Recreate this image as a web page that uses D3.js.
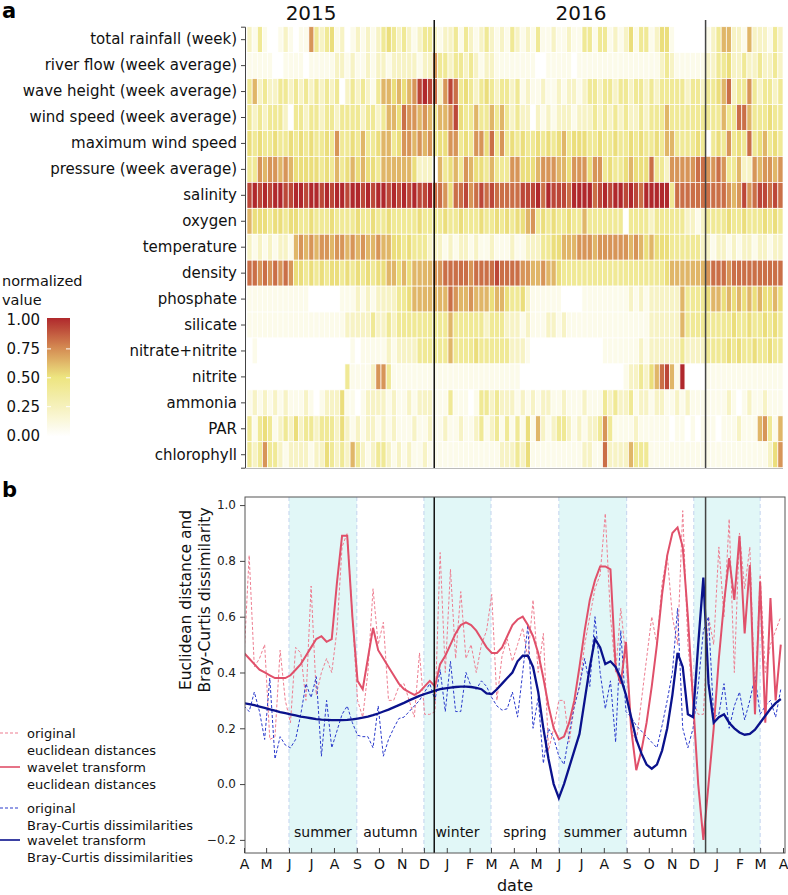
<!DOCTYPE html>
<html><head><meta charset="utf-8">
<script src="https://cdn.jsdelivr.net/npm/d3@7"></script>
<style>body{margin:0;background:#fff}svg{display:block;font-family:"DejaVu Sans",Verdana,sans-serif}</style>
</head><body><svg id="c" width="788" height="895"></svg>
<script>
// ---------- DATA ----------
const variables = ["total rainfall (week)","river flow (week average)","wave height (week average)","wind speed (week average)","maximum wind speed","pressure (week average)","salinity","oxygen","temperature","density","phosphate","silicate","nitrate+nitrite","nitrite","ammonia","PAR","chlorophyll"];
// heatmap rows: one char per week (104 weeks, groups of 10), quantised normalized level (see levelValues)
const levelValues = [0, 0.08, 0.22, 0.41, 0.52, 0.63, 0.72, 0.82, 0.92, 1.0];
const rainfall   = "2131001210 1163234120 1212123432 3212332122 3132123212 1321213112 1121133133 1212413312 4410000001 2355221522 2132";
const riverFlow  = "1111100111 1011111221 2112122122 2221226332 3323212211 1111110011 1110111111 1111111111 2321111112 2334223223 2232";
const waveHeight = "3523223323 2323232302 3232135545 4568987268 7343234323 3231211211 2122123323 3233233232 3333323323 3457233632 3323";
const windSpeed  = "3232333203 3233233233 3323323554 7665653556 8433533535 3232202121 2221222323 2323223233 3533333333 3353377533 3433";
const maxWind    = "4343343343 4343343633 4353345534 6656563446 6343664736 3434334343 4534443343 3433434334 3553333430 3436343734 5343";
const pressure   = "3365665654 4444343534 5454435555 5542220534 5365443533 3664445666 5546664663 4334544473 3266666776 6763352265 6656";
const salinity   = "8989899889 9899898998 9989899898 9898897764 7786787877 7778889798 8879999789 8998987999 9937777777 7776568678 8787";
const oxygen     = "5444344344 3343334333 3433433433 3334333343 3433343343 4344563434 3343353333 3330333323 3333322123 3334334333 4343";
const temperature= "2121212215 6565665665 6565565544 3433322212 1221211211 1211222334 4555666566 6666565454 4433333322 1221212212 2122";
const density    = "7767676764 4343434434 3434344554 5455556677 7776777787 7776655655 4333333333 3333333333 3455555556 7776777777 7777";
const phosphate  = "1111111111 1100000011 1212122223 3455555557 6556555455 4334211111 1000011111 1111212122 2222533334 5545454545 4454";
const silicate   = "1111111111 1111111112 2222322323 3333333335 3333332333 2221211122 1211111111 1111111122 2222533333 3333433433 4343";
const nitrate    = "0100000000 0000000000 1011111212 2223333335 3333433333 3222100000 0000000001 1111112122 2222322223 3334343343 3433";
const nitrite    = "0000000000 0000000003 1111266311 1111111111 1111111111 1110000000 0000000000 0001223245 7851900001 1111111111 1111";
const ammonia    = "1212121211 1210122241 1012222121 1212221113 1110133232 2212121221 1211121113 2322312212 2112121111 1112101211 2111";
const par        = "3134312324 2332333242 1212212121 1121121121 1211231231 3131415212 3321212236 3111121111 1101101011 1011121115 6315";
const chlorophyll= "3236332122 2212243232 5321233212 1211211111 1111111112 2232411111 1111122117 2222533311 1111111111 1111111111 1246";
const heatRows = [rainfall,riverFlow,waveHeight,windSpeed,maxWind,pressure,salinity,oxygen,temperature,density,phosphate,silicate,nitrate,nitrite,ammonia,par,chlorophyll];

// weekly series (105 weeks from 1 Apr 2015)
const origEuclid = [0.45,0.82,0.42,0.45,0.5,0.16,0.17,0.48,0.3,0.22,0.49,0.47,0.3,0.71,0.32,0.4,0.45,0.4,0.55,0.85,0.9,0.6,0.3,0.24,0.4,0.7,0.5,0.58,0.3,0.3,0.35,0.36,0.3,0.24,0.47,0.25,0.25,0.26,0.83,0.4,0.77,0.45,0.69,0.45,0.5,0.4,0.5,0.55,0.68,0.3,0.46,0.52,0.44,0.5,0.56,0.45,0.66,0.4,0.54,0.12,0.2,0.3,0.3,0.15,0.28,0.35,0.5,0.6,0.7,0.75,0.97,0.6,0.4,0.63,0.45,0.2,0.15,0.3,0.45,0.6,0.5,0.72,0.82,0.6,0.5,0.98,0.5,0.3,0.25,0.25,0.6,0.5,0.85,0.6,0.95,0.4,0.9,0.7,0.85,0.3,0.75,0.4,0.5,0.55,0.6];
const waveEuclid = [0.47,0.45,0.43,0.41,0.4,0.39,0.38,0.38,0.38,0.39,0.41,0.43,0.46,0.49,0.52,0.53,0.51,0.52,0.72,0.89,0.89,0.6,0.37,0.34,0.45,0.56,0.48,0.45,0.42,0.39,0.36,0.34,0.33,0.32,0.33,0.35,0.37,0.35,0.43,0.46,0.5,0.54,0.57,0.58,0.57,0.55,0.52,0.49,0.47,0.47,0.49,0.53,0.57,0.59,0.6,0.57,0.53,0.47,0.38,0.28,0.2,0.16,0.17,0.22,0.3,0.42,0.55,0.66,0.73,0.78,0.78,0.77,0.42,0.36,0.51,0.2,0.05,0.12,0.22,0.35,0.5,0.68,0.82,0.9,0.92,0.85,0.6,0.3,0.0,-0.2,0.0,0.2,0.45,0.65,0.81,0.66,0.89,0.54,0.785,0.25,0.725,0.22,0.667,0.3,0.5];
const origBray = [0.28,0.26,0.33,0.26,0.16,0.38,0.09,0.17,0.14,0.13,0.16,0.25,0.36,0.31,0.385,0.1,0.3,0.13,0.19,0.25,0.28,0.22,0.175,0.17,0.17,0.13,0.28,0.1,0.16,0.2,0.235,0.24,0.26,0.28,0.3,0.33,0.36,0.3,0.41,0.26,0.44,0.26,0.26,0.4,0.35,0.34,0.37,0.35,0.31,0.28,0.265,0.27,0.33,0.24,0.4,0.57,0.2,0.31,0.074,0.2,0.165,0.1,0.07,0.18,0.28,0.35,0.45,0.35,0.6,0.4,0.27,0.37,0.15,0.55,0.26,0.24,0.21,0.19,0.17,0.15,0.13,0.21,0.3,0.4,0.63,0.2,0.13,0.2,0.35,0.55,0.6,0.24,0.25,0.36,0.2,0.28,0.33,0.23,0.3,0.385,0.25,0.28,0.3,0.24,0.34];
const waveBray = [0.29,0.287,0.283,0.278,0.273,0.268,0.263,0.258,0.254,0.25,0.246,0.242,0.239,0.236,0.233,0.231,0.23,0.229,0.229,0.229,0.23,0.232,0.235,0.238,0.242,0.247,0.253,0.26,0.267,0.275,0.283,0.291,0.3,0.308,0.316,0.323,0.329,0.335,0.34,0.343,0.346,0.348,0.349,0.349,0.348,0.345,0.34,0.325,0.323,0.34,0.36,0.38,0.4,0.44,0.46,0.46,0.42,0.33,0.2,0.09,0.0,-0.05,0.0,0.06,0.12,0.18,0.3,0.42,0.52,0.49,0.43,0.44,0.42,0.38,0.32,0.24,0.16,0.11,0.07,0.055,0.07,0.12,0.2,0.32,0.47,0.42,0.25,0.24,0.5,0.74,0.36,0.22,0.24,0.25,0.22,0.2,0.185,0.177,0.18,0.195,0.22,0.245,0.27,0.29,0.305];

const seasons = [
  {name:"summer", start:"2015-06-01", end:"2015-09-01", shaded:true},
  {name:"autumn", start:"2015-09-01", end:"2015-12-01", shaded:false},
  {name:"winter", start:"2015-12-01", end:"2016-03-01", shaded:true},
  {name:"spring", start:"2016-03-01", end:"2016-06-01", shaded:false},
  {name:"summer", start:"2016-06-01", end:"2016-09-01", shaded:true},
  {name:"autumn", start:"2016-09-01", end:"2016-12-01", shaded:false},
  {name:"",       start:"2016-12-01", end:"2017-03-01", shaded:true}
];
const yearLabels = [{text:"2015", date:"2015-07-01"},{text:"2016", date:"2016-07-01"}];
const yearBreaks = ["2015-12-15","2016-12-17"];
const legendTicks = [0, 0.25, 0.5, 0.75, 1];
const yTicks = [-0.2, 0, 0.2, 0.4, 0.6, 0.8, 1.0];
const legendItems = [
  {lines:["original","euclidean distances"], color:"#ee7d90", dash:"3,2", w:1.2},
  {lines:["wavelet transform","euclidean distances"], color:"#e0506a", dash:null, w:1.6},
  {lines:["original","Bray-Curtis dissimilarities"], color:"#2a3acc", dash:"3,2", w:1.2},
  {lines:["wavelet transform","Bray-Curtis dissimilarities"], color:"#0a128c", dash:null, w:1.6}
];

// ---------- SETUP ----------
const svg = d3.select("#c");
const parse = d3.timeParse("%Y-%m-%d");
const startDate = parse("2015-04-01");
const weeks = d3.range(105).map(i => d3.timeDay.offset(startDate, 7*i));
const x = d3.scaleTime().domain([parse("2015-04-01"), parse("2017-04-01")]).range([244, 783]);
const color = d3.scaleLinear().domain([0,0.25,0.5,0.75,1]).range(["#ffffff","#f6f1bd","#ede580","#d48a52","#b0282c"]);

// ---------- PANEL A: heatmap ----------
const hx = d3.scaleBand().domain(d3.range(104)).range([247, 783]);
const hy = d3.scaleBand().domain(variables).range([26.7, 467.7]);
const cells = [];
heatRows.forEach((rowStr, r) => {
  const row = rowStr.replace(/\s/g, "");
  for (let i = 0; i < 104; i++) cells.push({v: variables[r], i, val: levelValues[+row[i]]});
});
svg.append("g").selectAll("rect").data(cells).join("rect")
  .attr("x", d => hx(d.i)).attr("y", d => hy(d.v))
  .attr("width", hx.bandwidth()).attr("height", hy.bandwidth())
  .attr("fill", d => color(d.val)).attr("stroke", "#fff").attr("stroke-width", 0.7);

const yAxA = svg.append("g").attr("transform", "translate(245,0)")
  .call(d3.axisLeft(hy).tickSize(4).tickPadding(4));
yAxA.select(".domain").attr("stroke", "#444");
yAxA.selectAll(".tick line").attr("stroke", "#444");
yAxA.selectAll("text").attr("font-size", 15).attr("fill", "#111").attr("font-family", "DejaVu Sans");
svg.append("line").attr("x1", 245).attr("x2", 783).attr("y1", 468.5).attr("y2", 468.5).attr("stroke", "#bbb");

svg.selectAll(".yr").data(yearLabels).join("text")
  .attr("x", d => x(parse(d.date))).attr("y", 20).attr("text-anchor", "middle")
  .attr("font-size", 20).attr("fill", "#111").text(d => d.text);

svg.selectAll(".brkA").data(yearBreaks).join("line")
  .attr("x1", d => x(parse(d))).attr("x2", d => x(parse(d)))
  .attr("y1", 20).attr("y2", 468)
  .attr("stroke", (d,i) => i ? "#444" : "#111").attr("stroke-width", 1.5);

// colour legend
svg.append("text").attr("x", 2).attr("y", 286).attr("font-size", 14.5).attr("fill", "#111").text("normalized");
svg.append("text").attr("x", 2).attr("y", 305).attr("font-size", 14.5).attr("fill", "#111").text("value");
const ly = d3.scaleLinear().domain([0,1]).range([435.6, 320]);
const defs = svg.append("defs");
const grad = defs.append("linearGradient").attr("id", "lg").attr("x1", 0).attr("x2", 0).attr("y1", 1).attr("y2", 0);
d3.range(0, 1.001, 0.05).forEach(t => grad.append("stop").attr("offset", t).attr("stop-color", color(t)));
svg.append("rect").attr("x", 47).attr("y", ly(1) - 2).attr("width", 23).attr("height", ly(0) - ly(1) + 3).attr("fill", "url(#lg)");
svg.selectAll(".lt").data(legendTicks).join("text")
  .attr("x", 40).attr("y", d => ly(d)).attr("dy", "0.35em").attr("text-anchor", "end")
  .attr("font-size", 15).attr("fill", "#111").text(d => d3.format(".2f")(d));
[47, 66].forEach(px => svg.selectAll(null).data(legendTicks.slice(1, 4)).join("line")
  .attr("x1", px).attr("x2", px + 4).attr("y1", d => ly(d)).attr("y2", d => ly(d)).attr("stroke", "#fff").attr("stroke-width", 1));

// ---------- PANEL B: lines ----------
const y = d3.scaleLinear().domain([-0.247, 1.029]).range([853, 497]);
const plotL = 245, plotR = 785, plotT = 497, plotB = 853;
defs.append("clipPath").attr("id", "cp").append("rect").attr("x", plotL).attr("y", plotT).attr("width", plotR - plotL).attr("height", plotB - plotT);
const gB = svg.append("g");
const shaded = seasons.filter(s => s.shaded);
gB.selectAll(".season").data(shaded).join("rect")
  .attr("x", d => x(parse(d.start))).attr("width", d => x(parse(d.end)) - x(parse(d.start)))
  .attr("y", plotT).attr("height", plotB - plotT).attr("fill", "#e1f7f7");
shaded.forEach(s => [s.start, s.end].forEach(dt => gB.append("line")
  .attr("x1", x(parse(dt))).attr("x2", x(parse(dt))).attr("y1", plotT).attr("y2", plotB)
  .attr("stroke", "#c3d3ee").attr("stroke-dasharray", "4,3").attr("stroke-width", 1)));
gB.selectAll(".slab").data(seasons.filter(s => s.name)).join("text")
  .attr("x", d => x(new Date((parse(d.start).getTime() + parse(d.end).getTime()) / 2)))
  .attr("y", 837).attr("text-anchor", "middle").attr("font-size", 14).attr("fill", "#111").text(d => d.name);

const line = d3.line().x((d, i) => x(weeks[i])).y(d => y(d));
const gL = gB.append("g").attr("clip-path", "url(#cp)");
gL.append("path").datum(origEuclid).attr("d", line).attr("fill", "none").attr("stroke", "#ee7d90").attr("stroke-width", 1).attr("stroke-dasharray", "3,2");
gL.append("path").datum(origBray).attr("d", line).attr("fill", "none").attr("stroke", "#2a3acc").attr("stroke-width", 1).attr("stroke-dasharray", "3,2");
gL.append("path").datum(waveEuclid).attr("d", line).attr("fill", "none").attr("stroke", "#e0506a").attr("stroke-width", 2);
gL.append("path").datum(waveBray).attr("d", line).attr("fill", "none").attr("stroke", "#0a128c").attr("stroke-width", 2.3);

gB.selectAll(".brkB").data(yearBreaks).join("line")
  .attr("x1", d => x(parse(d))).attr("x2", d => x(parse(d)))
  .attr("y1", plotT).attr("y2", plotB)
  .attr("stroke", (d,i) => i ? "#444" : "#111").attr("stroke-width", 1.5);

gB.append("rect").attr("x", plotL).attr("y", plotT).attr("width", plotR - plotL).attr("height", plotB - plotT)
  .attr("fill", "none").attr("stroke", "#555").attr("stroke-width", 1);

const yAx = svg.append("g").attr("transform", `translate(${plotL},0)`)
  .call(d3.axisLeft(y).tickValues(yTicks).tickFormat(d3.format(".1f")).tickSize(5).tickPadding(4));
yAx.select(".domain").remove();
yAx.selectAll("line").attr("stroke", "#444");
yAx.selectAll("text").attr("font-size", 12).attr("fill", "#222").attr("font-family", "DejaVu Sans");

const months = d3.timeMonth.range(parse("2015-04-01"), parse("2017-04-02"));
const xAx = svg.append("g").attr("transform", `translate(0,${plotB})`)
  .call(d3.axisBottom(x).tickValues(months).tickFormat(d => d3.timeFormat("%b")(d)[0]).tickSize(-5).tickPadding(6));
xAx.select(".domain").remove();
xAx.selectAll("line").attr("stroke", "#444");
xAx.selectAll("text").attr("font-size", 14).attr("fill", "#111").attr("font-family", "DejaVu Sans");

svg.append("text").attr("x", (plotL + plotR) / 2).attr("y", 891).attr("text-anchor", "middle").attr("font-size", 16).attr("fill", "#111").text("date");
const yt = svg.append("text").attr("transform", "translate(191,600) rotate(-90)").attr("text-anchor", "middle").attr("font-size", 15.5).attr("fill", "#111");
yt.append("tspan").attr("x", 0).attr("dy", 0).text("Euclidean distance and");
yt.append("tspan").attr("x", 0).attr("dy", 19).text("Bray-Curtis dissimilarity");

const legY = [733, 767, 808, 840];
legendItems.forEach((it, k) => {
  const g = svg.append("g").attr("transform", `translate(0,${legY[k]})`);
  g.append("line").attr("x1", 0).attr("x2", 20).attr("stroke", it.color).attr("stroke-width", it.w).attr("stroke-dasharray", it.dash);
  it.lines.forEach((t, j) => g.append("text").attr("x", 27).attr("y", 5 + j * 16.5).attr("font-size", 13).attr("fill", "#111").text(t));
});

svg.append("text").attr("x", 2).attr("y", 18).attr("font-size", 21).attr("font-weight", "bold").text("a");
svg.append("text").attr("x", 2).attr("y", 497).attr("font-size", 21).attr("font-weight", "bold").text("b");
</script></body></html>
